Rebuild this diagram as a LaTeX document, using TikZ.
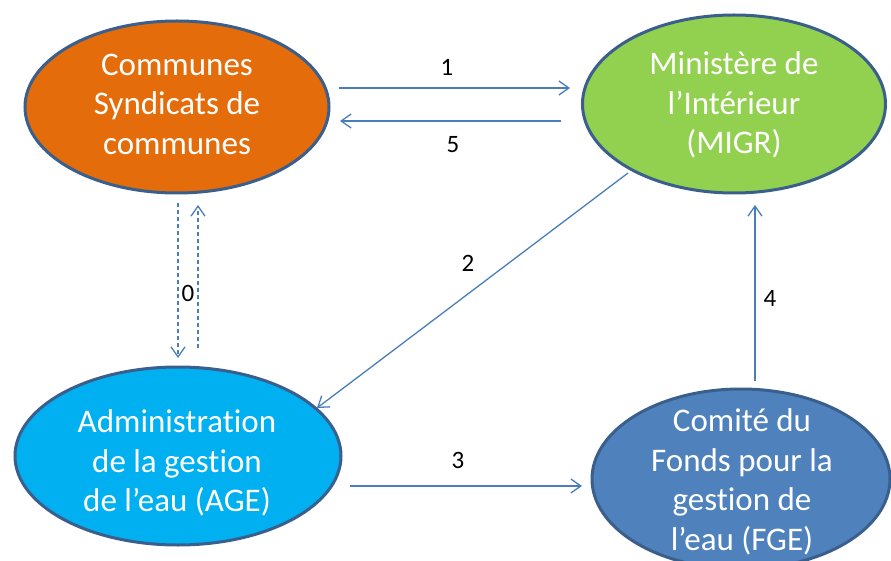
\documentclass[tikz,border=0pt]{standalone}
\usepackage{fontspec}
\setmainfont{Carlito}[Ligatures=NoCommon]
\usetikzlibrary{shapes.geometric,arrows.meta}
\definecolor{orangeC}{HTML}{E46C0A}
\definecolor{greenC}{HTML}{92D050}
\definecolor{cyanC}{HTML}{00B0F0}
\definecolor{blueC}{HTML}{4F81BD}
\definecolor{borderC}{HTML}{3A5F8C}
\definecolor{arrC}{HTML}{4A7EBB}
\begin{document}
\begin{tikzpicture}[x=1pt,y=-1pt,
  ell/.style={ellipse, draw=borderC, line width=3pt, inner sep=0pt},
  txt/.style={text=white, align=center, inner sep=0pt, font=\fontsize{33}{39.5}\selectfont},
  arr/.style={draw=arrC, line width=1.3pt, -{Straight Barb[length=10pt,width=14pt,line width=1.3pt]}},
  dsh/.style={dash pattern=on 4pt off 3pt},
  lbl/.style={inner sep=0pt, font=\fontsize{25}{29}\selectfont}]
\useasboundingbox (0,0) rectangle (891,561);
\clip (0,0) rectangle (891,561);
% ellipses
\node[ell, fill=orangeC, minimum width=304pt, minimum height=172pt] (com) at (177,107) {};
\node[ell, fill=greenC, minimum width=303pt, minimum height=178pt] (min) at (734,104) {};
\node[ell, fill=cyanC, minimum width=326pt, minimum height=178pt] (age) at (178,456) {};
\node[ell, fill=blueC, minimum width=298pt, minimum height=180pt] (fge) at (741,479) {};
% texts
\node[txt] (comt) at (177,104) {Communes\\Syndicats de\\communes};
\node[txt] (mint) at (734,105) {Ministère de\\l’Intérieur\\(MIGR)};
\node[txt] (aget) at (177,463) {Administration\\de la gestion\\de l’eau (AGE)};
\node[txt] (fget) at (742,482) {Comité du\\Fonds pour la\\gestion de\\l’eau (FGE)};
% connectors
\draw[arr] ([xshift=162pt,yshift=19pt]com.center) -- ([xshift=-164pt,yshift=16pt]min.center);
\draw[arr] ([xshift=-173pt,yshift=-17pt]min.center) -- ([xshift=163pt,yshift=-14pt]com.center);
\draw[arr] ([xshift=-106pt,yshift=-69pt]min.center) -- ([xshift=139pt,yshift=48pt]age.center);
\draw[arr,dsh] ([xshift=1pt,yshift=-96pt]com.center) -- ([xshift=0pt,yshift=98pt]age.center);
\draw[arr,dsh] ([xshift=20pt,yshift=108pt]age.center) -- ([xshift=21pt,yshift=-98pt]com.center);
\draw[arr] ([xshift=172pt,yshift=-30pt]age.center) -- ([xshift=-159pt,yshift=-7pt]fge.center);
\draw[arr] ([xshift=14pt,yshift=98pt]fge.center) -- ([xshift=21pt,yshift=-101pt]min.center);
% labels
\node[lbl] (l1) at (447,67) {1};
\node[lbl] (l5) at (453,145) {5};
\node[lbl] (l2) at (468,263) {2};
\node[lbl] (l0) at (188,293) {0};
\node[lbl] (l3) at (458,460) {3};
\node[lbl] (l4) at (770,298) {4};
\end{tikzpicture}
\end{document}
